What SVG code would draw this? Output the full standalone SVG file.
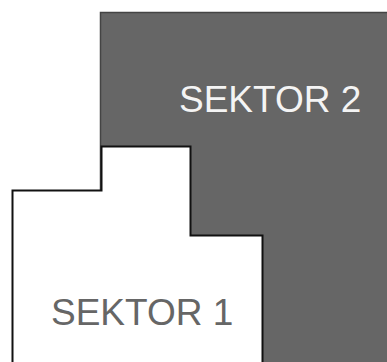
<svg xmlns="http://www.w3.org/2000/svg" width="387" height="362" viewBox="0 0 387 362">
<style>
.lbl{font-family:"Liberation Sans",Arial,sans-serif;font-size:37px}
</style>
<rect width="387" height="362" fill="#ffffff"/>
<g id="sektor2">
<rect x="100.5" y="12.5" width="290" height="355" fill="#666666" stroke="#444444" stroke-width="1.5"/>
<text class="lbl" x="179" y="111.5" fill="#f4f4f4">SEKTOR 2</text>
</g>
<g id="sektor1">
<polygon points="12.5,366 12.5,190.5 101.5,190.5 101.5,146.5 190.5,146.5 190.5,235.5 262.5,235.5 262.5,366" fill="#ffffff" stroke="#111111" stroke-width="2"/>
<text class="lbl" x="51" y="325" fill="#666666">SEKTOR 1</text>
</g>
</svg>
